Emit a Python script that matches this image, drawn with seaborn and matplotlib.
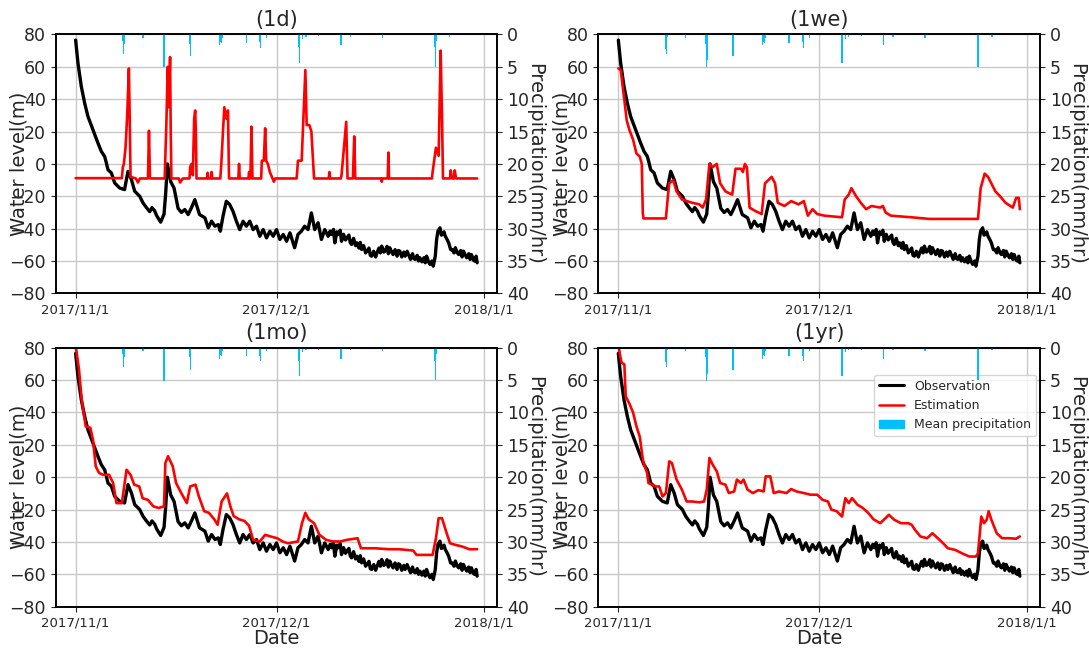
import pandas as pd
import numpy as np
import matplotlib
matplotlib.use("Agg")
import matplotlib.pyplot as plt
import matplotlib.dates as mdates
from matplotlib.patches import Patch
from matplotlib.lines import Line2D
import seaborn as sns

START = pd.Timestamp("2017-11-01")

# observed water level (days since 2017/11/1, m)
obs_day = [0, 0.35, 0.85, 1.35, 1.84, 2.59, 3.33, 3.84, 4.33, 4.59, 4.83, 5.34, 5.83, 6.58,
           7.3, 7.82, 8.33, 8.82, 9.57, 10.06, 10.57, 11.06, 11.4, 11.8, 12.1, 12.7, 13.2,
           13.45, 13.7, 14.2, 14.7, 15.3, 15.8, 16.3, 16.8, 17.3, 17.8, 18.5, 19.3, 19.8,
           20.3, 20.8, 21.3, 21.6, 22.0, 22.5, 23.0, 23.5, 24.0, 24.5, 25.0, 25.5, 26.0,
           26.5, 27.0, 27.5, 28.0, 28.5, 29.0, 29.5, 30.0, 30.5, 31.0, 31.5, 32.0, 32.7,
           33.2, 33.7, 34.2, 34.7, 35.2, 35.7, 36.2, 36.7, 37.2, 37.7, 38.0, 38.2, 38.5,
           38.7, 39.0, 39.2, 39.5, 39.7, 40.0, 40.3, 40.5, 40.8, 41.0, 41.2, 41.5, 41.8,
           42.0, 42.3, 42.5, 42.7, 43.0, 43.3, 43.5, 43.8, 44.0, 44.2, 44.5, 44.8, 45.0,
           45.3, 45.5, 45.7, 46.0, 46.2, 46.5, 46.7, 46.9, 47.2, 47.4, 47.7, 48.0, 48.2,
           48.4, 48.7, 49.0, 49.2, 49.5, 49.7, 50.0, 50.3, 50.5, 50.7, 51.0, 51.2, 51.4,
           51.7, 52.0, 52.2, 52.4, 52.7, 52.9, 53.2, 53.4, 53.7, 53.9, 54.1, 54.4, 54.6,
           54.8, 55.0, 55.2, 55.5, 55.7, 56.0, 56.2, 56.5, 56.7, 57.0, 57.2, 57.5, 57.7,
           57.9, 58.2, 58.4, 58.7, 58.9, 59.1, 59.4, 59.6, 59.8, 59.95]
obs_level = [76.5, 62.2, 47.8, 37.5, 29.3, 21.1, 12.9, 7.7, 4.6, 0.6, -3.6, -5.6, -11.8, -14.9,
             -15.9, -4.6, -9.7, -16.9, -20.0, -24.1, -27.0, -29.5, -27.0, -29.0, -32.0, -36.0,
             -31.0, -18.0, 0.0, -11.0, -15.0, -27.5, -30.0, -28.2, -31.3, -27.0, -22.1, -31.3,
             -33.3, -39.5, -35.4, -38.5, -37.5, -41.6, -32.4, -23.1, -25.1, -29.3, -35.4,
             -40.6, -35.4, -38.5, -35.4, -40.6, -38.5, -44.7, -40.6, -45.7, -41.6, -44.7,
             -40.6, -46.7, -43.6, -47.8, -42.6, -51.8, -43.6, -41.6, -38.5, -40.6, -30.3,
             -40.6, -36.4, -46.7, -40.6, -44.7, -41.5, -43.6, -40.5, -48.8, -42.0, -43.6,
             -41.0, -47.8, -43.5, -47.0, -45.7, -44.0, -48.5, -49.8, -46.0, -50.5, -48.8,
             -52.0, -48.5, -52.9, -50.5, -55.0, -53.9, -52.0, -56.5, -57.0, -54.0, -57.5,
             -54.9, -52.0, -55.0, -50.8, -54.5, -53.9, -51.0, -55.5, -51.8, -54.5, -56.0,
             -53.0, -57.0, -53.5, -53.9, -57.5, -54.5, -57.0, -54.0, -56.0, -59.0, -55.5,
             -58.5, -59.0, -56.5, -60.0, -58.0, -60.5, -58.0, -61.1, -57.0, -60.5, -62.1,
             -60.0, -63.2, -57.0, -46.7, -41.5, -39.5, -44.0, -43.6, -42.0, -44.7, -47.0,
             -48.8, -53.0, -52.9, -55.0, -51.8, -55.0, -56.0, -53.5, -57.5, -53.9, -56.5,
             -58.0, -55.5, -59.0, -56.0, -59.5, -60.1, -57.0, -61.1]

# estimation, 1 day window
est_1d_day = [0, 6.9, 7.05, 7.2, 7.45, 7.7, 7.95, 8.05, 8.2, 9.0, 9.3, 9.6, 10.8, 10.95, 11.1,
              13.3, 13.4, 13.55, 13.75, 13.85, 13.95, 14.1, 14.2, 14.3, 15.4, 15.6, 16.0,
              17.0, 17.1, 17.3, 17.5, 17.7, 17.85, 17.95, 18.05, 19.6, 19.7, 19.8, 20.2,
              20.3, 20.4, 21.6, 21.75, 22.0, 22.2, 22.5, 22.75, 22.9, 24.3, 24.4, 24.5, 25.8,
              25.9, 26.0, 26.1, 26.25, 26.4, 27.7, 27.8, 28.1, 28.3, 28.45, 28.7, 29.0, 29.3,
              29.6, 29.8, 33.0, 33.2, 33.75, 34.3, 34.5, 34.9, 35.2, 35.6, 37.8, 37.9, 38.0,
              39.6, 39.7, 40.4, 40.6, 41.4, 41.6, 41.75, 45.6, 45.7, 45.8, 46.6, 46.7, 46.8,
              53.2, 53.3, 53.8, 54.2, 54.5, 54.7, 54.85, 55.9, 56.0, 56.2, 56.5, 56.6, 56.8,
              59.95]
est_1d_level = [-8.8, -8.8, -2.0, 0.0, 10.0, 30.0, 59.0, 35.0, -8.0, -9.0, -11.5, -9.0, -9.0,
                20.5, -9.0, -9.0, 5.0, 25.0, 60.0, 35.0, 40.0, 66.0, 20.0, -9.0, -9.0, -11.5,
                -9.0, -9.0, -2.0, 0.0, -7.0, 28.0, 33.0, 20.0, -9.0, -9.0, -5.5, -9.0, -9.0,
                -5.0, -9.0, -9.0, 0.0, 20.0, 35.0, 28.0, 33.0, -9.0, -9.0, 0.0, -9.0, -9.0,
                -5.0, -9.0, -9.0, 23.0, -9.0, -9.0, 2.0, 2.0, 22.0, 2.0, 0.0, -5.0, -8.0,
                -11.0, -9.0, -9.0, 2.0, 2.0, 58.0, 24.0, 24.0, 20.0, -9.0, -9.0, -5.0, -9.0,
                -9.0, -7.0, 26.0, -9.0, -9.0, 17.0, -9.0, -9.0, -11.0, -9.0, -9.0, 7.0, -9.0,
                -9.0, -5.0, 10.0, 5.0, 70.0, 30.0, -9.0, -9.0, -4.0, -9.0, -9.0, -4.0, -9.0,
                -9.0]

# estimation, 1 week window
est_1we_day = [0, 0.35, 0.9, 1.25, 1.65, 2.2, 2.7, 3.2, 3.5, 3.65, 3.75, 7.1, 7.4, 7.6, 8.2,
               8.7, 9.5, 11.0, 12.1, 12.6, 13.1, 13.6, 14.1, 14.7, 15.2, 16.0, 17.0, 17.5,
               18.3, 18.6, 18.9, 19.2, 19.6, 20.4, 21.4, 21.9, 22.4, 22.9, 23.4, 23.8, 24.8,
               25.8, 26.9, 27.7, 28.3, 29.0, 29.7, 30.8, 33.4, 33.8, 34.4, 34.8, 35.5, 36.2,
               37.0, 37.8, 39.1, 39.5, 39.9, 40.7, 43.8, 46.4, 53.7, 54.1, 54.7, 55.2, 56.3,
               57.0, 57.8, 58.9, 59.4, 59.8, 59.95]
est_1we_level = [59.0, 58.0, 39.5, 27.0, 21.0, 15.0, 6.5, 4.5, 0.0, -30.0, -33.7, -33.7,
                 -20.0, -12.0, -10.0, -17.0, -22.0, -24.0, -25.0, -27.0, -22.0, 0.0, -2.0,
                 0.0, -12.0, -17.0, -19.0, -3.0, -3.0, -5.0, 0.0, -2.0, -27.0, -29.0, -31.0,
                 -12.0, -10.0, -8.0, -12.0, -24.0, -26.0, -23.0, -25.0, -23.0, -32.0, -28.0,
                 -31.0, -32.0, -33.0, -22.0, -19.0, -15.0, -20.0, -24.0, -28.0, -26.0, -27.0,
                 -26.0, -30.0, -32.0, -33.0, -34.0, -34.0, -15.0, -6.0, -8.0, -17.0, -20.0,
                 -24.0, -27.0, -21.0, -21.0, -28.0]

# estimation, 1 month window
est_1mo_day = [0, 0.5, 0.9, 1.5, 2.2, 2.6, 3.0, 3.5, 4.1, 5.0, 5.6, 6.1, 6.9, 7.6, 8.2, 8.75,
               9.5, 10.0, 10.8, 11.6, 12.4, 13.2, 13.4, 13.8, 14.5, 15.0, 15.8, 16.6, 17.1,
               17.9, 18.4, 19.2, 19.9, 20.7, 21.2, 21.8, 22.6, 23.1, 23.6, 24.4, 25.2, 25.9,
               26.5, 27.5, 28.3, 29.1, 30.1, 30.9, 31.7, 33.2, 33.8, 34.3, 34.8, 35.6, 36.4,
               37.4, 38.4, 39.5, 40.5, 42.1, 42.6, 44.7, 46.8, 48.3, 50.4, 50.9, 53.3, 53.8,
               54.2, 54.7, 55.4, 55.9, 56.7, 57.7, 58.8, 59.95]
est_1mo_level = [81.4, 66.6, 48.0, 31.5, 30.5, 23.0, 6.7, 2.6, 1.5, 1.5, -3.6, -16.0, -16.0,
                 4.6, 1.5, -4.6, -5.7, -13.0, -14.0, -18.0, -19.0, -18.0, 8.8, 13.0, 6.7,
                 -3.6, -10.0, -16.0, -5.7, -4.6, -11.9, -21.0, -22.0, -26.0, -29.4, -15.0,
                 -10.0, -18.0, -24.0, -26.0, -27.0, -30.0, -38.7, -39.7, -35.6, -36.6, -37.7,
                 -39.7, -40.8, -39.7, -28.4, -22.0, -26.0, -28.4, -35.6, -38.7, -39.7, -39.7,
                 -38.7, -37.7, -43.9, -43.9, -44.5, -44.5, -45.3, -48.0, -48.0, -37.7, -25.3,
                 -25.3, -34.6, -40.8, -41.8, -42.8, -44.5, -44.5]

# estimation, 1 year window
est_1yr_day = [0, 0.26, 0.5, 0.9, 1.1, 1.7, 2.2, 2.7, 3.2, 3.7, 4.3, 4.5, 5.0, 5.6, 6.1, 6.6,
               7.1, 7.6, 8.0, 8.7, 9.5, 10.2, 11.0, 12.1, 12.8, 13.2, 13.6, 14.1, 14.7, 15.2,
               16.0, 16.5, 17.3, 17.7, 18.3, 18.7, 19.3, 20.1, 20.9, 21.7, 22.0, 22.7, 23.2,
               24.0, 25.1, 25.8, 26.6, 27.7, 28.7, 29.7, 30.5, 31.3, 31.8, 32.6, 33.4, 33.9,
               34.4, 34.9, 35.7, 36.5, 37.3, 38.1, 39.1, 39.9, 40.4, 41.2, 42.2, 43.3, 43.8,
               44.3, 45.1, 46.1, 46.9, 47.7, 48.5, 49.2, 50.3, 51.3, 52.4, 53.4, 53.7, 54.2,
               54.6, 55.0, 55.3, 55.7, 56.5, 57.3, 58.3, 59.4, 59.95]
est_1yr_level = [82.7, 75.0, 70.7, 69.7, 50.0, 45.0, 40.0, 31.5, 25.0, 9.8, 2.6, -3.6, -4.6,
                 -5.7, -5.7, -11.9, -9.8, 9.8, 8.8, -1.5, -7.7, -15.0, -15.0, -15.5, -15.0,
                 -7.7, 11.9, 7.7, 3.6, -3.6, -4.6, -9.8, -8.8, -1.5, -3.6, -1.5, -7.7, -9.8,
                 -8.0, -8.8, 0.5, 0.5, -9.8, -8.8, -9.8, -7.3, -8.8, -9.8, -10.8, -10.8, -14.0,
                 -15.0, -20.0, -21.0, -24.3, -12.9, -16.0, -12.9, -17.0, -19.0, -22.0, -26.0,
                 -28.4, -25.3, -23.2, -26.3, -28.4, -28.4, -29.4, -32.5, -36.6, -37.7, -34.6,
                 -37.7, -40.8, -43.9, -44.9, -47.0, -49.0, -49.0, -47.0, -24.3, -28.4, -26.3,
                 -21.0, -26.3, -34.6, -37.7, -37.7, -38.0, -36.6]

# mean precipitation (mm/hr)
rain_day = [7.08, 7.13, 7.17, 7.22, 7.28, 10.06, 13.1, 13.15, 13.2, 13.25, 13.3, 17.08, 17.14,
            17.2, 21.5, 21.6, 21.8, 21.9, 25.5, 27.55, 27.6, 28.5, 33.35, 33.4, 33.45, 33.9,
            34.4, 36.3, 39.55, 39.6, 41.0, 45.8, 53.65, 53.7, 53.75, 53.8, 55.8]
rain_mm = [1.0, 2.2, 3.0, 1.5, 0.4, 0.5, 1.5, 3.5, 5.1, 4.0, 1.0, 1.5, 3.4, 1.0, 1.7, 1.1, 1.3,
           0.5, 1.3, 1.2, 2.1, 0.5, 2.0, 4.4, 1.5, 0.7, 0.4, 0.3, 1.0, 1.7, 0.4, 0.5, 2.0, 5.0,
           3.5, 1.0, 0.4]

panels = [("(1d)", est_1d_day, est_1d_level),
          ("(1we)", est_1we_day, est_1we_level),
          ("(1mo)", est_1mo_day, est_1mo_level),
          ("(1yr)", est_1yr_day, est_1yr_level)]


def to_dates(days):
    return START + pd.to_timedelta(np.asarray(days, dtype=float), unit="D")


def date_fmt(x, pos=None):
    d = mdates.num2date(x)
    return f"{d.year}/{d.month}/{d.day}"


sns.set_style("ticks")
plt.rcParams["font.family"] = ["DejaVu Sans"]

fig, axes = plt.subplots(2, 2, figsize=(10.89, 6.52), dpi=100)
fig.subplots_adjust(left=0.051, right=0.955, bottom=0.0695, top=0.9472,
                    wspace=0.2285, hspace=0.21)

obs_df = pd.DataFrame({"date": to_dates(obs_day), "level": obs_level})
rain_dates = to_dates(rain_day)

for i, (title, e_day, e_level) in enumerate(panels):
    ax = axes.flat[i]
    est_df = pd.DataFrame({"date": to_dates(e_day), "level": e_level})

    sns.lineplot(data=obs_df, x="date", y="level", ax=ax, color="black", lw=2.4,
                 estimator=None, sort=False, legend=False)
    sns.lineplot(data=est_df, x="date", y="level", ax=ax, color="red", lw=1.9,
                 estimator=None, sort=False, legend=False)

    ax.set_ylim(-80, 80)
    ax.set_yticks(range(-80, 81, 20))
    ax.set_xlim(START - pd.Timedelta(days=3.0), START + pd.Timedelta(days=62.96))
    ax.xaxis.set_major_locator(mdates.MonthLocator())
    ax.xaxis.set_major_formatter(plt.FuncFormatter(date_fmt))
    ax.grid(True, color="#c8c8c8", lw=1)
    ax.tick_params(axis="x", labelsize=9.5)
    ax.tick_params(axis="y", labelsize=12.5)
    ax.set_ylabel("Water level(m)", fontsize=14, labelpad=-14)
    ax.set_xlabel("Date" if i >= 2 else "", fontsize=14, labelpad=0)
    ax.set_title(title, fontsize=15)

    ax2 = ax.twinx()
    ax2.bar(rain_dates, rain_mm, width=0.2, color="#00BFFF", lw=0)
    ax2.set_ylim(40, 0)
    ax2.set_yticks(range(0, 41, 5))
    ax2.tick_params(axis="y", labelsize=12.5)
    ax2.set_ylabel("Precipitation(mm/hr)", fontsize=14, rotation=270, va="bottom",
                   labelpad=-3)
    ax2.set_xlim(ax.get_xlim())

    for a in (ax, ax2):
        for s in a.spines.values():
            s.set_linewidth(1.2)
            s.set_color("black")

    if i == 3:
        handles = [Line2D([], [], color="black", lw=2.2),
                   Line2D([], [], color="red", lw=1.8),
                   Patch(color="#00BFFF")]
        ax.legend(handles, ["Observation", "Estimation", "Mean precipitation"],
                  loc="upper right", bbox_to_anchor=(1.0, 0.91), fontsize=9,
                  borderaxespad=0.3)

fig.savefig("out.png", dpi=100)
